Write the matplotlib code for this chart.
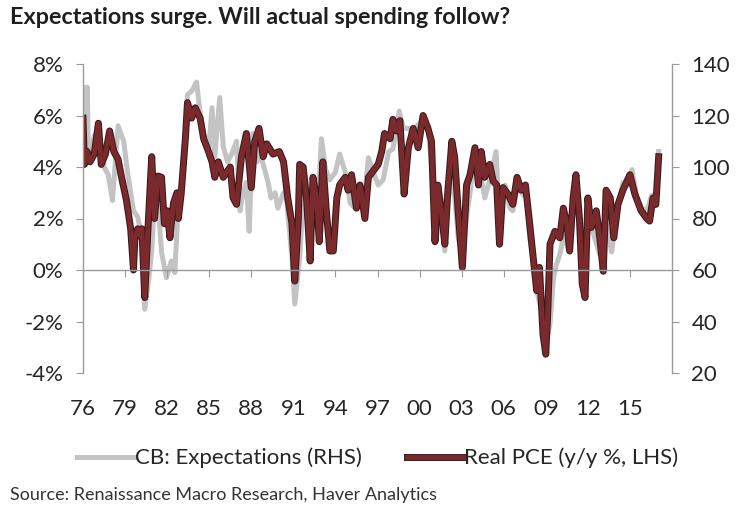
import matplotlib
matplotlib.use("Agg")
import matplotlib.pyplot as plt
import matplotlib.patheffects as pe
from matplotlib.lines import Line2D

plt.rcParams["font.family"] = ["Lato", "DejaVu Sans"]

# Real PCE, y/y % (LHS) - decimal year
pce_years = [1976.0, 1976.1, 1976.3, 1976.5, 1976.8, 1977.1, 1977.3, 1977.6, 1977.9, 1978.2,
             1978.5, 1978.75, 1979.1, 1979.4, 1979.6, 1979.7, 1979.9, 1980.1, 1980.2, 1980.4,
             1980.65, 1980.9, 1981.1, 1981.35, 1981.6, 1981.8, 1982.0, 1982.2, 1982.45, 1982.7,
             1982.8, 1983.0, 1983.3, 1983.45, 1983.75, 1984.0, 1984.35, 1984.6, 1984.95, 1985.2,
             1985.4, 1985.65, 1986.0, 1986.5, 1986.7, 1986.95, 1987.3, 1987.65, 1988.0, 1988.25,
             1988.55, 1988.85, 1989.1, 1989.55, 1990.0, 1990.3, 1990.6, 1990.9, 1991.1, 1991.35,
             1991.45, 1991.7, 1991.95, 1992.2, 1992.4, 1992.65, 1992.85, 1993.1, 1993.35, 1993.6,
             1993.85, 1994.1, 1994.3, 1994.7, 1994.9, 1995.15, 1995.5, 1995.75, 1996.1, 1996.35,
             1996.7, 1997.05, 1997.3, 1997.5, 1997.9, 1998.1, 1998.35, 1998.6, 1998.9, 1999.2,
             1999.55, 1999.9, 2000.25, 2000.6, 2000.85, 2001.1, 2001.3, 2001.55, 2001.8, 2002.0,
             2002.3, 2002.5, 2002.75, 2003.05, 2003.35, 2003.6, 2003.95, 2004.2, 2004.4, 2004.65,
             2005.0, 2005.25, 2005.5, 2005.7, 2005.95, 2006.3, 2006.65, 2006.95, 2007.25, 2007.55,
             2007.85, 2008.1, 2008.35, 2008.55, 2008.8, 2009.0, 2009.15, 2009.3, 2009.65, 2010.0,
             2010.25, 2010.5, 2010.7, 2010.95, 2011.15, 2011.4, 2011.6, 2011.8, 2012.0, 2012.25,
             2012.6, 2012.85, 2013.1, 2013.3, 2013.6, 2013.85, 2014.15, 2014.5, 2015.0, 2015.35,
             2015.8, 2016.2, 2016.4, 2016.65, 2016.85, 2017.05]
pce_values = [5.9, 4.1, 4.6, 4.2, 4.5, 5.7, 4.1, 4.5, 5.4, 4.6,
              4.3, 3.6, 2.7, 1.6, 0.0, 1.25, 1.6, 1.3, 1.6, -1.07,
              1.8, 4.4, 2.0, 3.65, 3.6, 1.8, 2.3, 1.25, 2.6, 3.0,
              2.0, 2.95, 5.1, 6.5, 5.9, 6.3, 5.9, 5.1, 4.6, 4.2,
              3.6, 4.2, 3.6, 4.0, 2.8, 2.55, 4.4, 5.3, 3.2, 5.0,
              5.5, 4.4, 4.9, 4.5, 4.6, 4.2, 2.8, 1.8, -0.43, 1.9,
              4.1, 4.0, 2.7, 0.35, 3.6, 2.8, 1.1, 4.2, 2.3, 0.74,
              0.74, 2.8, 3.3, 3.6, 3.1, 3.7, 2.4, 3.3, 2.0, 3.6,
              3.85, 4.1, 4.6, 5.3, 5.1, 5.85, 5.4, 5.8, 2.95, 4.75,
              5.5, 4.75, 6.0, 5.5, 5.0, 1.1, 3.3, 2.3, 1.0, 2.95,
              5.0, 4.4, 2.3, 0.1, 3.3, 3.7, 4.75, 3.3, 4.6, 3.6,
              4.1, 3.45, 3.3, 1.0, 3.2, 2.95, 2.55, 3.6, 3.1, 3.3,
              1.8, 0.5, -0.8, 0.1, -2.5, -3.27, -1.5, 1.0, 1.5, 1.25,
              2.4, 1.8, 0.74, 2.8, 3.7, 2.0, -0.55, -1.07, 2.8, 1.65,
              2.3, 1.25, -0.05, 3.1, 2.8, 1.25, 2.55, 3.1, 3.7, 2.95,
              2.3, 2.0, 1.9, 2.8, 2.55, 4.4]

# Conference Board expectations index (RHS)
exp_years = [1976.0, 1976.05, 1976.15, 1976.3, 1976.4, 1976.8, 1977.1, 1977.5, 1977.8, 1978.1,
             1978.5, 1978.9, 1979.2, 1979.6, 1979.9, 1980.2, 1980.4, 1980.65, 1980.9, 1981.1,
             1981.35, 1981.6, 1981.95, 1982.3, 1982.55, 1982.8, 1983.0, 1983.2, 1983.45, 1983.75,
             1984.1, 1984.35, 1984.6, 1984.95, 1985.2, 1985.4, 1985.75, 1986.0, 1986.3, 1986.6,
             1986.95, 1987.2, 1987.4, 1987.65, 1987.85, 1988.1, 1988.4, 1988.6, 1988.95, 1989.2,
             1989.4, 1989.7, 1989.9, 1990.3, 1990.5, 1990.9, 1991.1, 1991.45, 1991.8, 1992.05,
             1992.4, 1992.8, 1993.0, 1993.3, 1993.6, 1994.0, 1994.3, 1994.7, 1995.05, 1995.4,
             1995.75, 1996.0, 1996.35, 1996.7, 1997.05, 1997.4, 1997.8, 1998.1, 1998.55, 1998.85,
             1999.2, 1999.55, 1999.9, 2000.25, 2000.6, 2001.0, 2001.2, 2001.55, 2001.8, 2002.0,
             2002.3, 2002.5, 2002.75, 2003.0, 2003.35, 2003.6, 2003.95, 2004.3, 2004.65, 2005.0,
             2005.45, 2005.7, 2006.1, 2006.45, 2006.65, 2007.0, 2007.4, 2007.6, 2007.85, 2008.1,
             2008.35, 2008.7, 2009.0, 2009.3, 2009.55, 2009.75, 2010.0, 2010.25, 2010.5, 2010.7,
             2010.95, 2011.2, 2011.45, 2011.65, 2011.85, 2012.1, 2012.45, 2012.85, 2013.1, 2013.3,
             2013.7, 2014.0, 2014.5, 2014.9, 2015.15, 2015.5, 2015.8, 2016.2, 2016.55, 2016.85,
             2017.05]
exp_values = [125, 131, 101, 131, 102, 112, 114, 100, 97, 87,
              116, 110, 97, 83, 80.6, 72.6, 44.8, 54.6, 67.4, 88,
              86, 67, 57, 63.5, 59, 86.8, 93, 102, 128, 129.5,
              133, 121, 113, 106, 123, 104, 127, 108, 102, 105,
              110, 83, 90, 94, 75, 113, 102, 106, 99, 94,
              88, 90, 84, 90, 88, 64.8, 46.8, 64.8, 97, 90,
              78, 90, 111, 99, 95, 98, 105, 98, 86, 84,
              87, 84, 103.6, 98, 93, 95, 106, 107, 121.7, 115,
              115, 113, 116.6, 118, 115, 93, 72.6, 83, 67.4, 86,
              95, 89, 72.6, 67, 80.6, 90, 106, 99, 88, 95,
              106, 80.6, 93, 84, 83, 93, 89, 90, 72.6, 65,
              52, 44, 31, 39, 57, 62, 66, 73, 70, 67,
              84, 87, 73, 62, 67, 80.6, 73, 66, 71, 78,
              67, 80, 94, 93, 99, 88, 84, 83, 89, 88,
              106]

tick_years = list(range(1976, 2016, 3))
tick_labels = ["%02d" % (y % 100) for y in tick_years]
lhs_ticks = list(range(-4, 9, 2))
rhs_ticks = list(range(20, 141, 20))

axis_gray = "#9a9a9a"
text_col = "#262626"
red = "#7a2a2c"
gray = "#c3c3c3"
red_fx = [pe.Stroke(linewidth=5.0, foreground="#3b1a1b"), pe.Normal()]

fig = plt.figure(figsize=(7.44, 5.15), dpi=100)
ax = fig.add_axes([83 / 744, 1 - 373 / 515, (672 - 83) / 744, (373 - 64) / 515])
ax2 = ax.twinx()

ax2.plot(exp_years, exp_values, color=gray, lw=3.6, solid_joinstyle="round")
ax.plot(pce_years, pce_values, color=red, lw=3.5, solid_joinstyle="round", path_effects=red_fx)

# red series sits on top of the grey one
ax.set_zorder(ax2.get_zorder() + 1)
ax.patch.set_visible(False)

ax.set_xlim(1976, 2018)
ax.set_ylim(-4, 8)
ax2.set_ylim(20, 140)

ax.set_yticks(lhs_ticks)
ax.set_yticklabels(["%d%%" % v for v in lhs_ticks])
ax2.set_yticks(rhs_ticks)
ax2.set_yticklabels([str(v) for v in rhs_ticks])
ax.set_xticks(tick_years)
ax.set_xticklabels(tick_labels)

for a in (ax, ax2):
    for s in a.spines.values():
        s.set_color(axis_gray)
        s.set_linewidth(1.0)
    a.spines["top"].set_visible(False)
ax.spines["right"].set_visible(False)
ax2.spines["left"].set_visible(False)
ax2.spines["bottom"].set_visible(False)
ax.spines["bottom"].set_position(("data", 0))

ax.tick_params(axis="y", direction="out", length=5, color=axis_gray, labelsize=16,
               labelcolor=text_col, pad=9)
ax2.tick_params(axis="y", direction="out", length=5, color=axis_gray, labelsize=16,
                labelcolor=text_col, pad=9)
ax.tick_params(axis="x", direction="out", length=5, color=axis_gray, labelsize=16,
               labelcolor=text_col, pad=88)

fig.text(0.013, 1 - 17 / 515, "Expectations surge. Will actual spending follow?",
         fontsize=16.8, fontweight="bold", color="#1f1f1f", va="center", ha="left")
fig.text(0.013, 1 - 495 / 515, "Source: Renaissance Macro Research, Haver Analytics",
         fontsize=13, color="#333333", va="center", ha="left")

handles = [Line2D([], [], color=gray, lw=3.6),
           Line2D([], [], color=red, lw=3.5, path_effects=red_fx)]
fig.legend(handles, ["CB: Expectations (RHS)", "Real PCE (y/y %, LHS)"],
           loc="center", bbox_to_anchor=(0.508, 1 - 458 / 515), ncol=2, frameon=False,
           fontsize=16, handlelength=2.6, handletextpad=0.0, columnspacing=2.0,
           labelcolor=text_col)

fig.savefig("out.png", dpi=100)
